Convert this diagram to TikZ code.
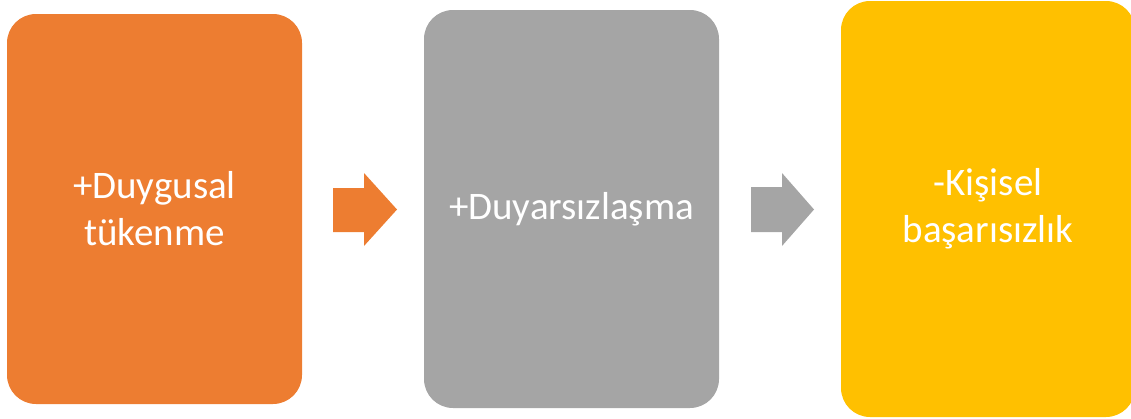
\documentclass[tikz,border=0pt]{standalone}
\usepackage{fontspec}
\setmainfont{Carlito}
\definecolor{boxorange}{HTML}{ED7D31}
\definecolor{boxgray}{HTML}{A5A5A5}
\definecolor{boxyellow}{HTML}{FFC000}
\tikzset{
  stagebox/.style={rectangle, rounded corners=29pt, inner sep=0pt, text=white, align=center,
    font=\fontsize{39}{47}\selectfont},
  blockarrow/.style={draw=none}
}
\begin{document}
\begin{tikzpicture}[x=1pt,y=-1pt]
\useasboundingbox (0,0) rectangle (1131,418);
\clip (0,0) rectangle (1131,418);
\node[stagebox, fill=boxorange, minimum width=295pt, minimum height=390pt] (box1) at (154.5,209) {+Duygusal\\tükenme};
\node[stagebox, fill=boxgray, minimum width=295pt, minimum height=398pt] (box2) at (571.5,209) {+Duyarsızlaşma};
\node[stagebox, fill=boxyellow, minimum width=294pt, minimum height=416pt] (box3) at (988,209) {-Kişisel\\başarısızlık};
\fill[blockarrow, boxorange] (333,188) -- (364,188) -- (364,173) -- (397,209.5) -- (364,246) -- (364,232) -- (333,232) -- cycle;
\fill[blockarrow, boxgray] (751,187) -- (782,187) -- (782,173) -- (814,209.5) -- (782,246) -- (782,232) -- (751,232) -- cycle;
\end{tikzpicture}
\end{document}
